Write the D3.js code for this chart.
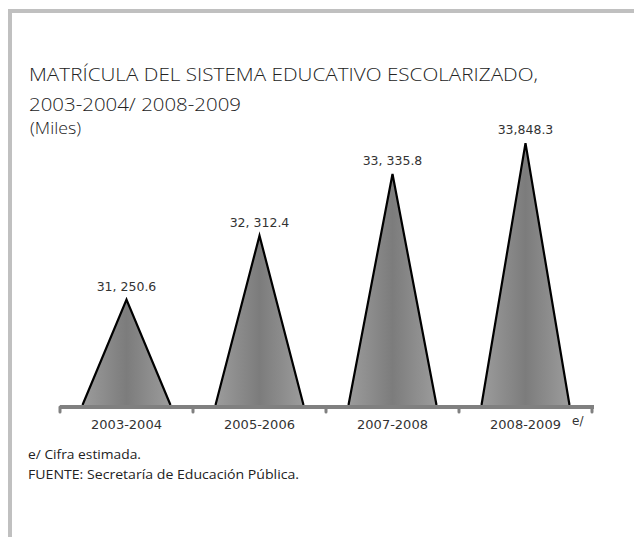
<!DOCTYPE html>
<html>
<head>
<meta charset="utf-8">
<script src="https://cdn.jsdelivr.net/npm/d3@7"></script>
<style>
  html, body { margin: 0; padding: 0; background: #fff; }
  svg { display: block; }
  text { font-family: "Open Sans", "Noto Sans", sans-serif; fill: #222; }
  .dv { font-family: "DejaVu Sans", Verdana, sans-serif; }
</style>
</head>
<body>
<svg id="chart" width="637" height="537"></svg>
<script>
const categories = ["2003-2004", "2005-2006", "2007-2008", "2008-2009"];
const values = [31250.6, 32312.4, 33335.8, 33848.3];
const valueLabels = ["31, 250.6", "32, 312.4", "33, 335.8", "33,848.3"];
const titleLines = ["MATRÍCULA DEL SISTEMA EDUCATIVO ESCOLARIZADO,", "2003-2004/ 2008-2009"];
const unitLabel = "(Miles)";
const notes = ["e/ Cifra estimada.", "FUENTE: Secretaría de Educación Pública."];

const svg = d3.select("#chart");

// frame
svg.append("rect").attr("x", 8).attr("y", 9).attr("width", 626).attr("height", 4).attr("fill", "#c0c0c0");
svg.append("rect").attr("x", 8).attr("y", 9).attr("width", 4).attr("height", 530).attr("fill", "#c0c0c0");

// titles
const titleWidths = [509, 212];
svg.append("g").selectAll("text").data(titleLines).join("text")
  .attr("x", 29).attr("y", (d, i) => 81 + i * 30)
  .attr("textLength", (d, i) => titleWidths[i]).attr("lengthAdjust", "spacingAndGlyphs")
  .style("font-size", "19px").style("font-weight", 300).style("fill", "#222")
  .text(d => d);
svg.append("text").attr("x", 30).attr("y", 134)
  .attr("textLength", 51).attr("lengthAdjust", "spacingAndGlyphs")
  .style("font-size", "16px").style("font-weight", 300).text(unitLabel);

const x = d3.scaleBand().domain(categories).range([60, 592]).paddingInner(0).paddingOuter(0);
const y = d3.scaleLinear().domain([29500, 34000]).range([405, 134]);

const defs = svg.append("defs");
const grad = defs.append("linearGradient").attr("id", "tri").attr("x1", "0").attr("x2", "1").attr("y1", "0").attr("y2", "0");
grad.append("stop").attr("offset", "0%").attr("stop-color", "#9c9c9c");
grad.append("stop").attr("offset", "50%").attr("stop-color", "#7c7c7c");
grad.append("stop").attr("offset", "100%").attr("stop-color", "#9c9c9c");

const halfBase = 44;
const g = svg.append("g");
g.selectAll("path.tri").data(values).join("path")
  .attr("class", "tri")
  .attr("d", (d, i) => {
    const cx = x(categories[i]) + x.bandwidth() / 2;
    return `M${cx - halfBase},${y.range()[0]}L${cx},${y(d)}L${cx + halfBase},${y.range()[0]}`;
  })
  .attr("fill", "url(#tri)")
  .attr("stroke", "#000").attr("stroke-width", 2.2).attr("stroke-linejoin", "miter");

// value labels
g.selectAll("text.val").data(values).join("text")
  .attr("class", "val dv")
  .attr("x", (d, i) => x(categories[i]) + x.bandwidth() / 2)
  .attr("y", d => y(d) - 9)
  .attr("text-anchor", "middle")
  .style("font-size", "12.5px").style("fill", "#333")
  .text((d, i) => valueLabels[i]);

// axis
const axisY = 407;
const ax = svg.append("g").attr("transform", `translate(0,${axisY})`);
ax.append("line").attr("x1", 60).attr("x2", 594).attr("y1", 0).attr("y2", 0)
  .attr("stroke", "#808080").attr("stroke-width", 4).attr("stroke-linecap", "butt");
const tickPos = x.domain().map(c => x(c)).concat([x.range()[1]]);
ax.selectAll("line.tk").data(tickPos).join("line").attr("class", "tk")
  .attr("x1", d => d).attr("x2", d => d).attr("y1", 0).attr("y2", 5)
  .attr("stroke", "#808080").attr("stroke-width", 3).attr("stroke-linecap", "round");
ax.selectAll("text.cat").data(categories).join("text").attr("class", "cat dv")
  .attr("x", d => x(d) + x.bandwidth() / 2).attr("y", 22)
  .attr("text-anchor", "middle").style("font-size", "13px").style("fill", "#333")
  .text(d => d);
ax.append("text").attr("class", "dv").attr("x", 572).attr("y", 18).style("font-size", "12px").style("fill", "#333").text("e/");

// notes
const noteWidths = [113, 271];
svg.append("g").selectAll("text").data(notes).join("text")
  .attr("x", 28).attr("y", (d, i) => 459 + i * 20)
  .attr("textLength", (d, i) => noteWidths[i]).attr("lengthAdjust", "spacingAndGlyphs")
  .style("font-size", "13px").style("fill", "#222").text(d => d);
</script>
</body>
</html>
